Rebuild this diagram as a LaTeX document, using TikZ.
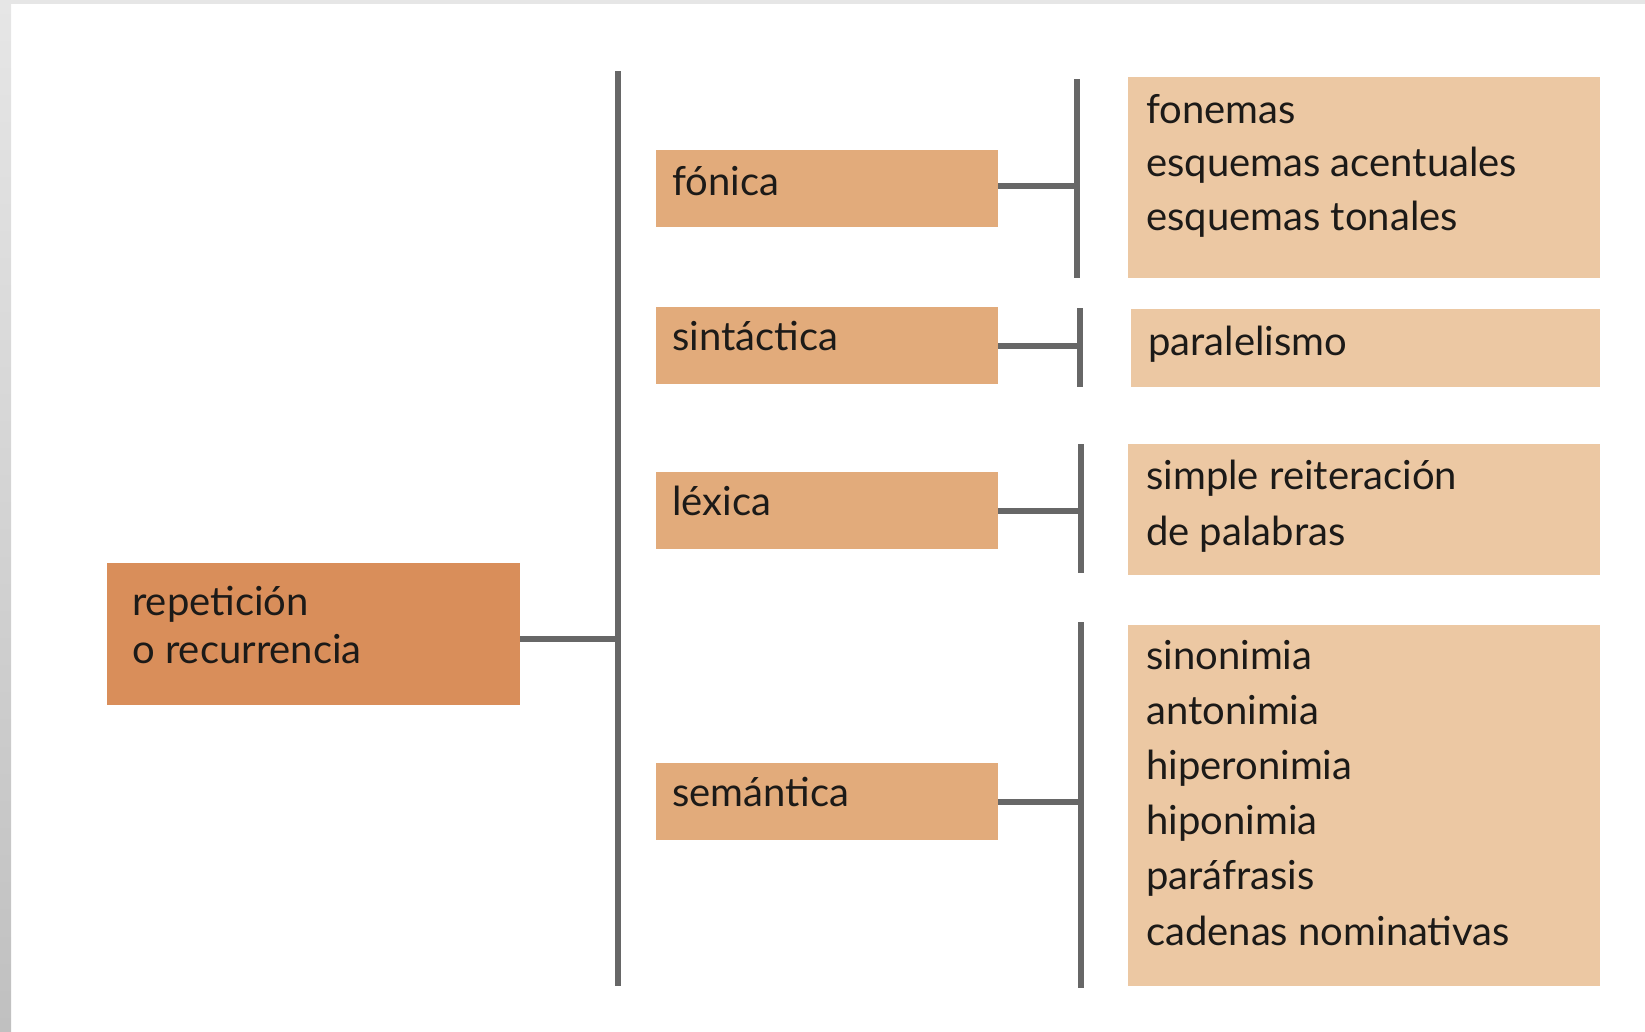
\documentclass[tikz,border=0pt]{standalone}
\usepackage{fontspec}
\setmainfont{Lato}
\definecolor{rootc}{HTML}{D98E5A}
\definecolor{midc}{HTML}{E2AB7B}
\definecolor{leafc}{HTML}{ECC8A3}
\definecolor{barc}{HTML}{676767}
\definecolor{txtc}{HTML}{1C1A18}
\definecolor{framec}{HTML}{E6E6E6}
\definecolor{framed}{HTML}{C0C0C0}
\begin{document}
\begin{tikzpicture}[x=1pt,y=-1pt,
  box/.style={anchor=north west, inner sep=0pt, outer sep=0pt},
  rootbox/.style={box, fill=rootc},
  midbox/.style={box, fill=midc, minimum width=342, minimum height=77},
  leafbox/.style={box, fill=leafc},
  txt/.style={anchor=base west, inner sep=0pt, align=left, text=txtc, font=\fontsize{40}{55}\selectfont},
  bar/.style={draw=barc, line width=6pt}]
\useasboundingbox (0,0) rectangle (1645,1031);
% frame
\fill[framec] (0,0) rectangle (1645,4);
\shade[top color=framec, bottom color=framed] (0,0) rectangle (11,1031);

% root
\node[rootbox, minimum width=413, minimum height=142] (root) at (107,563) {};
\node[txt, font=\fontsize{40}{48}\selectfont] (rootT) at (132,663) {repetición\\o recurrencia};

% main bar
\coordinate (mT) at (618,71);
\coordinate (mB) at (618,986);
\draw[bar] (mT) -- (mB);
\draw[bar] ([yshift=-5]root.east) -- ([yshift=-5]root.east -| mT);

% middle boxes
\node[midbox] (fon) at (656,150) {};
\node[txt] (fonT) at (672,195) {fónica};
\node[midbox] (sin) at (656,307) {};
\node[txt] (sinT) at (672,350) {sintáctica};
\node[midbox] (lex) at (656,472) {};
\node[txt] (lexT) at (672,515) {léxica};
\node[midbox] (sem) at (656,763) {};
\node[txt] (semT) at (672,806) {semántica};

% second bars
\coordinate (fT) at (1077,79);  \coordinate (fB) at (1077,278);
\coordinate (sT) at (1080,308); \coordinate (sB) at (1080,387);
\coordinate (lT) at (1081,444); \coordinate (lB) at (1081,573);
\coordinate (eT) at (1081,622); \coordinate (eB) at (1081,988);
\draw[bar] (fT) -- (fB);
\draw[bar] (sT) -- (sB);
\draw[bar] (lT) -- (lB);
\draw[bar] (eT) -- (eB);
\draw[bar] ([yshift=3]fon.east) -- ([yshift=3]fon.east -| fT);
\draw[bar] (sin.east) -- (sin.east -| sT);
\draw[bar] (lex.east) -- (lex.east -| lT);
\draw[bar] (sem.east) -- (sem.east -| eT);

% leaf boxes
\node[leafbox, minimum width=472, minimum height=201] (rfon) at (1128,77) {};
\node[txt, font=\fontsize{40}{53.5}\selectfont] (rfonT) at (1146,230) {fonemas\\esquemas acentuales\\esquemas tonales};
\node[leafbox, minimum width=469, minimum height=78] (rsin) at (1131,309) {};
\node[txt] (rsinT) at (1148,355) {paralelismo};
\node[leafbox, minimum width=472, minimum height=131] (rlex) at (1128,444) {};
\node[txt, font=\fontsize{40}{56}\selectfont] (rlexT) at (1146,545) {simple reiteración\\de palabras};
\node[leafbox, minimum width=472, minimum height=361] (rsem) at (1128,625) {};
\node[txt, font=\fontsize{40}{55.2}\selectfont] (rsemT) at (1146,945) {sinonimia\\antonimia\\hiperonimia\\hiponimia\\paráfrasis\\cadenas nominativas};
\end{tikzpicture}
\end{document}
